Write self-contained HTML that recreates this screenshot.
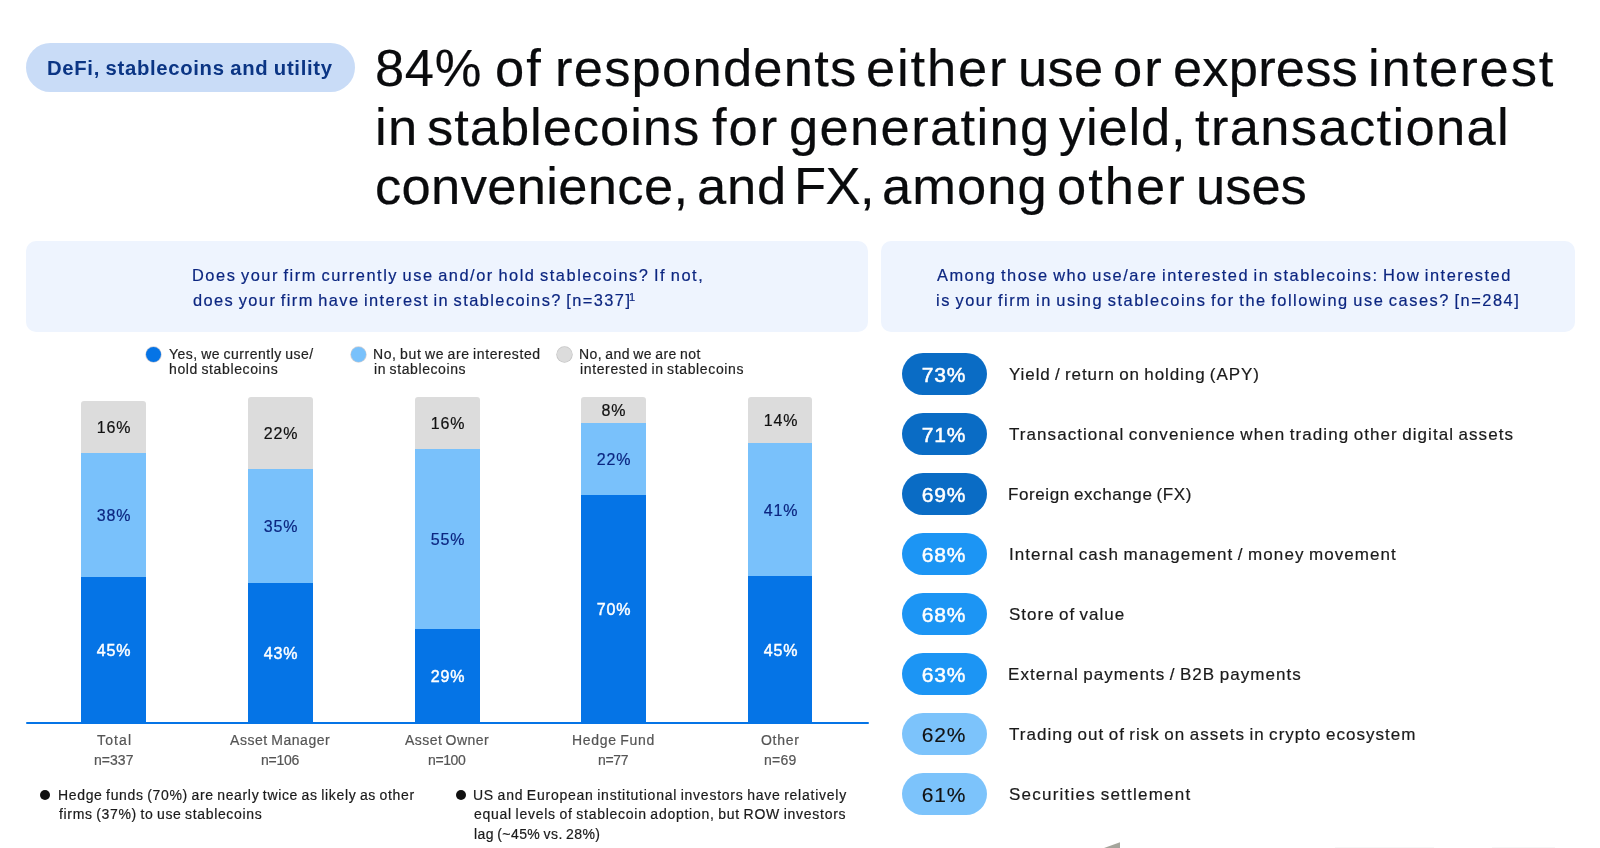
<!DOCTYPE html>
<html><head><meta charset="utf-8"><title>Stablecoins</title>
<style>
html,body{margin:0;padding:0;background:#fff;}
body{width:1600px;height:848px;position:relative;overflow:hidden;font-family:"Liberation Sans", sans-serif;}
.t{position:absolute;white-space:nowrap;will-change:transform;-webkit-text-stroke:0.2px currentColor;}
.box{position:absolute;}
</style></head><body>
<div class="box" style="left:26px;top:43px;width:329px;height:49px;border-radius:25px;background:#c9dcf7;"></div>
<div class="box" style="left:26px;top:241px;width:842px;height:91px;border-radius:10px;background:#eef4fe;"></div>
<div class="box" style="left:881px;top:241px;width:694px;height:91px;border-radius:10px;background:#eef4fe;"></div>
<div class="t" style="left:629.3px;top:290.69px;font-size:11px;line-height:13px;color:#0c2680;">1</div>
<div class="box" style="left:145.90px;top:346.65px;width:15.2px;height:15.2px;border-radius:50%;background:#0574e6;box-shadow:0 0 0 0.7px rgba(140,140,160,0.45);"></div>
<div class="box" style="left:351.20px;top:346.65px;width:15.2px;height:15.2px;border-radius:50%;background:#79c1fb;box-shadow:0 0 0 0.7px rgba(150,150,160,0.45);"></div>
<div class="box" style="left:556.50px;top:346.65px;width:15.2px;height:15.2px;border-radius:50%;background:#dcdcdc;box-shadow:0 0 0 0.7px #c4c4c4;"></div>
<div class="box" style="left:81.40px;top:400.60px;width:64.60px;height:321.40px;background:#dcdcdc;border-radius:3px 3px 0 0;"></div>
<div class="box" style="left:81.40px;top:452.70px;width:64.60px;height:269.30px;background:#79c1fb;"></div>
<div class="box" style="left:81.40px;top:576.50px;width:64.60px;height:145.50px;background:#0574e6;"></div>
<div class="t" style="left:14.20px;width:200px;text-align:center;top:417.66px;font-size:16px;line-height:19.2px;color:#111111;letter-spacing:0.9px;">16%</div>
<div class="t" style="left:14.20px;width:200px;text-align:center;top:505.61px;font-size:16px;line-height:19.2px;color:#0c2680;letter-spacing:0.9px;">38%</div>
<div class="t" style="left:14.20px;width:200px;text-align:center;top:640.86px;font-size:16px;line-height:19.2px;color:#ffffff;letter-spacing:0.9px;-webkit-text-stroke:0.45px #fff;">45%</div>
<div class="box" style="left:248.00px;top:397.20px;width:65.00px;height:324.80px;background:#dcdcdc;border-radius:3px 3px 0 0;"></div>
<div class="box" style="left:248.00px;top:469.00px;width:65.00px;height:253.00px;background:#79c1fb;"></div>
<div class="box" style="left:248.00px;top:582.80px;width:65.00px;height:139.20px;background:#0574e6;"></div>
<div class="t" style="left:181.00px;width:200px;text-align:center;top:424.11px;font-size:16px;line-height:19.2px;color:#111111;letter-spacing:0.9px;">22%</div>
<div class="t" style="left:181.00px;width:200px;text-align:center;top:516.91px;font-size:16px;line-height:19.2px;color:#0c2680;letter-spacing:0.9px;">35%</div>
<div class="t" style="left:181.00px;width:200px;text-align:center;top:644.01px;font-size:16px;line-height:19.2px;color:#ffffff;letter-spacing:0.9px;-webkit-text-stroke:0.45px #fff;">43%</div>
<div class="box" style="left:414.80px;top:397.40px;width:65.00px;height:324.60px;background:#dcdcdc;border-radius:3px 3px 0 0;"></div>
<div class="box" style="left:414.80px;top:449.40px;width:65.00px;height:272.60px;background:#79c1fb;"></div>
<div class="box" style="left:414.80px;top:628.75px;width:65.00px;height:93.25px;background:#0574e6;"></div>
<div class="t" style="left:347.80px;width:200px;text-align:center;top:414.41px;font-size:16px;line-height:19.2px;color:#111111;letter-spacing:0.9px;">16%</div>
<div class="t" style="left:347.80px;width:200px;text-align:center;top:530.08px;font-size:16px;line-height:19.2px;color:#0c2680;letter-spacing:0.9px;">55%</div>
<div class="t" style="left:347.80px;width:200px;text-align:center;top:666.98px;font-size:16px;line-height:19.2px;color:#ffffff;letter-spacing:0.9px;-webkit-text-stroke:0.45px #fff;">29%</div>
<div class="box" style="left:581.00px;top:397.10px;width:65.00px;height:324.90px;background:#dcdcdc;border-radius:3px 3px 0 0;"></div>
<div class="box" style="left:581.00px;top:423.20px;width:65.00px;height:298.80px;background:#79c1fb;"></div>
<div class="box" style="left:581.00px;top:495.00px;width:65.00px;height:227.00px;background:#0574e6;"></div>
<div class="t" style="left:514.00px;width:200px;text-align:center;top:401.16px;font-size:16px;line-height:19.2px;color:#111111;letter-spacing:0.9px;">8%</div>
<div class="t" style="left:514.00px;width:200px;text-align:center;top:450.11px;font-size:16px;line-height:19.2px;color:#0c2680;letter-spacing:0.9px;">22%</div>
<div class="t" style="left:514.00px;width:200px;text-align:center;top:600.11px;font-size:16px;line-height:19.2px;color:#ffffff;letter-spacing:0.9px;-webkit-text-stroke:0.45px #fff;">70%</div>
<div class="box" style="left:748.00px;top:397.10px;width:64.30px;height:324.90px;background:#dcdcdc;border-radius:3px 3px 0 0;"></div>
<div class="box" style="left:748.00px;top:443.00px;width:64.30px;height:279.00px;background:#79c1fb;"></div>
<div class="box" style="left:748.00px;top:576.25px;width:64.30px;height:145.75px;background:#0574e6;"></div>
<div class="t" style="left:680.65px;width:200px;text-align:center;top:411.06px;font-size:16px;line-height:19.2px;color:#111111;letter-spacing:0.9px;">14%</div>
<div class="t" style="left:680.65px;width:200px;text-align:center;top:500.63px;font-size:16px;line-height:19.2px;color:#0c2680;letter-spacing:0.9px;">41%</div>
<div class="t" style="left:680.65px;width:200px;text-align:center;top:640.73px;font-size:16px;line-height:19.2px;color:#ffffff;letter-spacing:0.9px;-webkit-text-stroke:0.45px #fff;">45%</div>
<div class="box" style="left:26px;top:722.00px;width:843px;height:2px;background:#0574e6;border-radius:1px;"></div>
<div class="box" style="left:40px;top:790px;width:10.2px;height:10.2px;border-radius:50%;background:#111;"></div>
<div class="box" style="left:455.7px;top:790px;width:10.2px;height:10.2px;border-radius:50%;background:#111;"></div>
<div class="box" style="left:902px;top:352.90px;width:85px;height:42px;border-radius:21px;background:#0a6cc5;"></div>
<div class="t" style="left:843.90px;width:200px;text-align:center;top:361.52px;font-size:21px;line-height:25.2px;color:#fff;letter-spacing:0.8px;-webkit-text-stroke:0.5px #fff;">73%</div>
<div class="box" style="left:902px;top:412.90px;width:85px;height:42px;border-radius:21px;background:#0a6cc5;"></div>
<div class="t" style="left:843.90px;width:200px;text-align:center;top:421.52px;font-size:21px;line-height:25.2px;color:#fff;letter-spacing:0.8px;-webkit-text-stroke:0.5px #fff;">71%</div>
<div class="box" style="left:902px;top:472.90px;width:85px;height:42px;border-radius:21px;background:#0a6cc5;"></div>
<div class="t" style="left:843.90px;width:200px;text-align:center;top:481.52px;font-size:21px;line-height:25.2px;color:#fff;letter-spacing:0.8px;-webkit-text-stroke:0.5px #fff;">69%</div>
<div class="box" style="left:902px;top:532.90px;width:85px;height:42px;border-radius:21px;background:#1c95f4;"></div>
<div class="t" style="left:843.90px;width:200px;text-align:center;top:541.52px;font-size:21px;line-height:25.2px;color:#fff;letter-spacing:0.8px;-webkit-text-stroke:0.5px #fff;">68%</div>
<div class="box" style="left:902px;top:592.90px;width:85px;height:42px;border-radius:21px;background:#1c95f4;"></div>
<div class="t" style="left:843.90px;width:200px;text-align:center;top:601.52px;font-size:21px;line-height:25.2px;color:#fff;letter-spacing:0.8px;-webkit-text-stroke:0.5px #fff;">68%</div>
<div class="box" style="left:902px;top:652.90px;width:85px;height:42px;border-radius:21px;background:#1c95f4;"></div>
<div class="t" style="left:843.90px;width:200px;text-align:center;top:661.52px;font-size:21px;line-height:25.2px;color:#fff;letter-spacing:0.8px;-webkit-text-stroke:0.5px #fff;">63%</div>
<div class="box" style="left:902px;top:712.90px;width:85px;height:42px;border-radius:21px;background:#7cc3fb;"></div>
<div class="t" style="left:843.90px;width:200px;text-align:center;top:721.52px;font-size:21px;line-height:25.2px;color:#111;letter-spacing:0.8px;-webkit-text-stroke:0.15px #111;">62%</div>
<div class="box" style="left:902px;top:772.90px;width:85px;height:42px;border-radius:21px;background:#7cc3fb;"></div>
<div class="t" style="left:843.90px;width:200px;text-align:center;top:781.52px;font-size:21px;line-height:25.2px;color:#111;letter-spacing:0.8px;-webkit-text-stroke:0.15px #111;">61%</div>
<div class="t" style="left:47.30px;top:55.69px;font-size:20.3px;line-height:24.36px;color:#0b3584;font-weight:700;letter-spacing:0.685px;word-spacing:-0.8px;-webkit-text-stroke:0;">DeFi, stablecoins and utility</div>
<div class="t" style="left:375.30px;top:35.91px;font-size:52.5px;line-height:63.0px;color:#0a0b0d;font-weight:400;letter-spacing:0.652px;word-spacing:0px;">84%</div>
<div class="t" style="left:494.90px;top:35.91px;font-size:52.5px;line-height:63.0px;color:#0a0b0d;font-weight:400;letter-spacing:2.000px;word-spacing:0px;">of</div>
<div class="t" style="left:554.50px;top:35.91px;font-size:52.5px;line-height:63.0px;color:#0a0b0d;font-weight:400;letter-spacing:1.229px;word-spacing:0px;">respondents</div>
<div class="t" style="left:866.00px;top:35.91px;font-size:52.5px;line-height:63.0px;color:#0a0b0d;font-weight:400;letter-spacing:1.831px;word-spacing:0px;">either</div>
<div class="t" style="left:1018.00px;top:35.91px;font-size:52.5px;line-height:63.0px;color:#0a0b0d;font-weight:400;letter-spacing:0.276px;word-spacing:0px;">use</div>
<div class="t" style="left:1113.00px;top:35.91px;font-size:52.5px;line-height:63.0px;color:#0a0b0d;font-weight:400;letter-spacing:2.000px;word-spacing:0px;">or</div>
<div class="t" style="left:1172.70px;top:35.91px;font-size:52.5px;line-height:63.0px;color:#0a0b0d;font-weight:400;letter-spacing:0.171px;word-spacing:0px;">express</div>
<div class="t" style="left:1368.00px;top:35.91px;font-size:52.5px;line-height:63.0px;color:#0a0b0d;font-weight:400;letter-spacing:1.889px;word-spacing:0px;">interest</div>
<div class="t" style="left:374.80px;top:94.91px;font-size:52.5px;line-height:63.0px;color:#0a0b0d;font-weight:400;letter-spacing:1.286px;word-spacing:0px;">in</div>
<div class="t" style="left:426.50px;top:94.91px;font-size:52.5px;line-height:63.0px;color:#0a0b0d;font-weight:400;letter-spacing:0.960px;word-spacing:0px;">stablecoins</div>
<div class="t" style="left:711.98px;top:94.91px;font-size:52.5px;line-height:63.0px;color:#0a0b0d;font-weight:400;letter-spacing:2.000px;word-spacing:0px;">for</div>
<div class="t" style="left:789.25px;top:94.91px;font-size:52.5px;line-height:63.0px;color:#0a0b0d;font-weight:400;letter-spacing:1.342px;word-spacing:0px;">generating</div>
<div class="t" style="left:1058.75px;top:94.91px;font-size:52.5px;line-height:63.0px;color:#0a0b0d;font-weight:400;letter-spacing:0.815px;word-spacing:0px;">yield,</div>
<div class="t" style="left:1194.90px;top:94.91px;font-size:52.5px;line-height:63.0px;color:#0a0b0d;font-weight:400;letter-spacing:1.341px;word-spacing:0px;">transactional</div>
<div class="t" style="left:375.30px;top:154.01px;font-size:52.5px;line-height:63.0px;color:#0a0b0d;font-weight:400;letter-spacing:0.332px;word-spacing:0px;">convenience,</div>
<div class="t" style="left:697.00px;top:154.01px;font-size:52.5px;line-height:63.0px;color:#0a0b0d;font-weight:400;letter-spacing:0.802px;word-spacing:0px;">and</div>
<div class="t" style="left:794.06px;top:154.01px;font-size:52.5px;line-height:63.0px;color:#0a0b0d;font-weight:400;letter-spacing:-0.600px;word-spacing:0px;">FX,</div>
<div class="t" style="left:882.10px;top:154.01px;font-size:52.5px;line-height:63.0px;color:#0a0b0d;font-weight:400;letter-spacing:1.043px;word-spacing:0px;">among</div>
<div class="t" style="left:1057.46px;top:154.01px;font-size:52.5px;line-height:63.0px;color:#0a0b0d;font-weight:400;letter-spacing:2.000px;word-spacing:0px;">other</div>
<div class="t" style="left:1196.00px;top:154.01px;font-size:52.5px;line-height:63.0px;color:#0a0b0d;font-weight:400;letter-spacing:-0.015px;word-spacing:0px;">uses</div>
<div class="t" style="left:191.50px;top:266.08px;font-size:16.4px;line-height:19.68px;color:#0c2680;font-weight:400;letter-spacing:1.524px;word-spacing:-1.5px;">Does your firm currently use and/or hold stablecoins? If not,</div>
<div class="t" style="left:192.50px;top:290.88px;font-size:16.4px;line-height:19.68px;color:#0c2680;font-weight:400;letter-spacing:1.422px;word-spacing:-1.5px;">does your firm have interest in stablecoins? [n=337]</div>
<div class="t" style="left:936.60px;top:266.08px;font-size:16.4px;line-height:19.68px;color:#0c2680;font-weight:400;letter-spacing:1.501px;word-spacing:-1.5px;">Among those who use/are interested in stablecoins: How interested</div>
<div class="t" style="left:935.80px;top:290.88px;font-size:16.4px;line-height:19.68px;color:#0c2680;font-weight:400;letter-spacing:1.522px;word-spacing:-1.5px;">is your firm in using stablecoins for the following use cases? [n=284]</div>
<div class="t" style="left:168.75px;top:345.65px;font-size:14px;line-height:16.8px;color:#1f1f1f;font-weight:400;letter-spacing:0.510px;word-spacing:-1.0px;">Yes, we currently use/</div>
<div class="t" style="left:168.75px;top:360.65px;font-size:14px;line-height:16.8px;color:#1f1f1f;font-weight:400;letter-spacing:0.623px;word-spacing:-1.0px;">hold stablecoins</div>
<div class="t" style="left:373.10px;top:345.65px;font-size:14px;line-height:16.8px;color:#1f1f1f;font-weight:400;letter-spacing:0.611px;word-spacing:-1.0px;">No, but we are interested</div>
<div class="t" style="left:374.30px;top:360.65px;font-size:14px;line-height:16.8px;color:#1f1f1f;font-weight:400;letter-spacing:0.598px;word-spacing:-1.0px;">in stablecoins</div>
<div class="t" style="left:578.60px;top:345.65px;font-size:14px;line-height:16.8px;color:#1f1f1f;font-weight:400;letter-spacing:0.411px;word-spacing:-1.0px;">No, and we are not</div>
<div class="t" style="left:579.80px;top:360.65px;font-size:14px;line-height:16.8px;color:#1f1f1f;font-weight:400;letter-spacing:0.638px;word-spacing:-1.0px;">interested in stablecoins</div>
<div class="t" style="left:96.60px;top:732.35px;font-size:14px;line-height:16.8px;color:#555555;font-weight:400;letter-spacing:1.135px;word-spacing:-1.0px;">Total</div>
<div class="t" style="left:94.00px;top:751.75px;font-size:14px;line-height:16.8px;color:#555555;font-weight:400;letter-spacing:0.041px;word-spacing:-1.0px;">n=337</div>
<div class="t" style="left:230.20px;top:732.35px;font-size:14px;line-height:16.8px;color:#555555;font-weight:400;letter-spacing:0.550px;word-spacing:-1.0px;">Asset Manager</div>
<div class="t" style="left:261.10px;top:751.75px;font-size:14px;line-height:16.8px;color:#555555;font-weight:400;letter-spacing:-0.259px;word-spacing:-1.0px;">n=106</div>
<div class="t" style="left:404.60px;top:732.35px;font-size:14px;line-height:16.8px;color:#555555;font-weight:400;letter-spacing:0.452px;word-spacing:-1.0px;">Asset Owner</div>
<div class="t" style="left:427.90px;top:751.75px;font-size:14px;line-height:16.8px;color:#555555;font-weight:400;letter-spacing:-0.384px;word-spacing:-1.0px;">n=100</div>
<div class="t" style="left:572.30px;top:732.35px;font-size:14px;line-height:16.8px;color:#555555;font-weight:400;letter-spacing:0.703px;word-spacing:-1.0px;">Hedge Fund</div>
<div class="t" style="left:598.20px;top:751.75px;font-size:14px;line-height:16.8px;color:#555555;font-weight:400;letter-spacing:-0.316px;word-spacing:-1.0px;">n=77</div>
<div class="t" style="left:760.70px;top:732.35px;font-size:14px;line-height:16.8px;color:#555555;font-weight:400;letter-spacing:0.712px;word-spacing:-1.0px;">Other</div>
<div class="t" style="left:764.00px;top:751.75px;font-size:14px;line-height:16.8px;color:#555555;font-weight:400;letter-spacing:0.217px;word-spacing:-1.0px;">n=69</div>
<div class="t" style="left:57.50px;top:786.75px;font-size:14px;line-height:16.8px;color:#1a1a1a;font-weight:400;letter-spacing:0.662px;word-spacing:-1.0px;">Hedge funds (70%) are nearly twice as likely as other</div>
<div class="t" style="left:58.70px;top:806.35px;font-size:14px;line-height:16.8px;color:#1a1a1a;font-weight:400;letter-spacing:0.661px;word-spacing:-1.0px;">firms (37%) to use stablecoins</div>
<div class="t" style="left:472.50px;top:786.55px;font-size:14px;line-height:16.8px;color:#1a1a1a;font-weight:400;letter-spacing:0.753px;word-spacing:-1.0px;">US and European institutional investors have relatively</div>
<div class="t" style="left:473.70px;top:806.15px;font-size:14px;line-height:16.8px;color:#1a1a1a;font-weight:400;letter-spacing:0.742px;word-spacing:-1.0px;">equal levels of stablecoin adoption, but ROW investors</div>
<div class="t" style="left:473.70px;top:825.75px;font-size:14px;line-height:16.8px;color:#1a1a1a;font-weight:400;letter-spacing:0.422px;word-spacing:-1.0px;">lag (~45% vs. 28%)</div>
<div class="t" style="left:1008.70px;top:364.71px;font-size:17px;line-height:20.4px;color:#1a1a1a;font-weight:400;letter-spacing:0.912px;word-spacing:-1.3px;">Yield / return on holding (APY)</div>
<div class="t" style="left:1008.90px;top:424.71px;font-size:17px;line-height:20.4px;color:#1a1a1a;font-weight:400;letter-spacing:1.063px;word-spacing:-1.3px;">Transactional convenience when trading other digital assets</div>
<div class="t" style="left:1008.00px;top:484.71px;font-size:17px;line-height:20.4px;color:#1a1a1a;font-weight:400;letter-spacing:0.605px;word-spacing:-1.3px;">Foreign exchange (FX)</div>
<div class="t" style="left:1008.60px;top:544.71px;font-size:17px;line-height:20.4px;color:#1a1a1a;font-weight:400;letter-spacing:1.069px;word-spacing:-1.3px;">Internal cash management / money movement</div>
<div class="t" style="left:1008.80px;top:604.71px;font-size:17px;line-height:20.4px;color:#1a1a1a;font-weight:400;letter-spacing:0.989px;word-spacing:-1.3px;">Store of value</div>
<div class="t" style="left:1008.00px;top:664.71px;font-size:17px;line-height:20.4px;color:#1a1a1a;font-weight:400;letter-spacing:1.045px;word-spacing:-1.3px;">External payments / B2B payments</div>
<div class="t" style="left:1008.60px;top:724.71px;font-size:17px;line-height:20.4px;color:#1a1a1a;font-weight:400;letter-spacing:1.019px;word-spacing:-1.3px;">Trading out of risk on assets in crypto ecosystem</div>
<div class="t" style="left:1008.80px;top:784.71px;font-size:17px;line-height:20.4px;color:#1a1a1a;font-weight:400;letter-spacing:1.237px;word-spacing:-1.3px;">Securities settlement</div>
<div class="box" style="left:1335px;top:847px;width:99px;height:1px;background:#f6f6f6;"></div>
<div class="box" style="left:1492px;top:847px;width:63px;height:1px;background:#f6f6f6;"></div>
<svg class="box" style="left:1095px;top:838px;" width="30" height="10"><polygon points="9,10 25,4.2 25,10" fill="#a5a59c"/></svg>
</body></html>
